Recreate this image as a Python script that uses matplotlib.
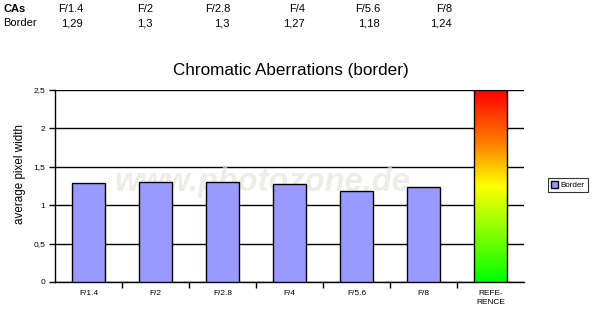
import matplotlib
matplotlib.use("Agg")
import matplotlib.pyplot as plt
import numpy as np
from matplotlib.colors import LinearSegmentedColormap
from matplotlib.patches import Rectangle

plt.rcParams['font.family'] = ['Liberation Sans', 'DejaVu Sans']

apertures = ['F/1.4', 'F/2', 'F/2.8', 'F/4', 'F/5.6', 'F/8']
border = [1.29, 1.3, 1.3, 1.27, 1.18, 1.24]
border_text = ['1,29', '1,3', '1,3', '1,27', '1,18', '1,24']
reference_label = 'REFE-\nRENCE'
reference_max = 2.5
yticks = [0, 0.5, 1, 1.5, 2, 2.5]
ytick_labels = ['0', '0,5', '1', '1,5', '2', '2,5']

W, H = 597, 324
fig = plt.figure(figsize=(W / 100, H / 100), dpi=100)
ax = fig.add_axes([55 / W, 1 - 282 / H, 469 / W, 192 / H])

# data table above the chart
col_right = [83, 153, 230, 305, 380, 452]
fig.text(3 / W, 1 - 9 / H, 'CAs', fontsize=8, fontweight='bold', va='center')
fig.text(3 / W, 1 - 23 / H, 'Border', fontsize=8, va='center')
for xr, ap, txt in zip(col_right, apertures, border_text):
    fig.text(xr / W, 1 - 9 / H, ap, fontsize=8, ha='right', va='center')
    fig.text(xr / W, 1 - 23 / H, txt, fontsize=8, ha='right', va='center')

x = np.arange(len(apertures))
ax.bar(x, border, width=0.5, color='#9999ff', edgecolor='black', linewidth=1, zorder=3,
       label='Border')

# gradient reference bar
ref_x = len(apertures)
cmap = LinearSegmentedColormap.from_list('ref', [(0.0, '#00ff00'), (0.5, '#ffff00'),
                                                 (0.72, '#ff8000'), (1.0, '#ff0000')])
grad = np.linspace(0, 1, 256).reshape(-1, 1)
ax.imshow(grad, cmap=cmap, origin='lower', aspect='auto',
          extent=[ref_x - 0.25, ref_x + 0.25, 0, reference_max], zorder=3)
ax.add_patch(Rectangle((ref_x - 0.25, 0), 0.5, reference_max, fill=False,
                       edgecolor='black', linewidth=1, zorder=4))

ax.set_xlim(-0.5, len(apertures) + 0.5)
ax.set_ylim(0, 2.5)
ax.set_yticks(yticks)
ax.set_yticklabels(ytick_labels, fontsize=6)
ax.yaxis.grid(True, color='black', linewidth=1, zorder=0)
ax.set_axisbelow(True)

ax.set_xticks(np.arange(len(apertures) + 1))
ax.set_xticklabels(apertures + [reference_label], fontsize=6, linespacing=1.3)
ax.set_xticks(np.arange(len(apertures)) + 0.5, minor=True)
ax.tick_params(axis='x', which='major', length=0, pad=6)
ax.tick_params(axis='x', which='minor', length=4, width=1, direction='out')
ax.tick_params(axis='y', length=4, width=1, direction='out', pad=3)

for s in ['top', 'right']:
    ax.spines[s].set_visible(False)
for s in ['left', 'bottom']:
    ax.spines[s].set_linewidth(1)

fig.text(20 / W, 1 - 174 / H, 'average pixel width', fontsize=8.4, rotation=90,
         ha='center', va='center')
fig.text(291 / W, 1 - 70 / H, 'Chromatic Aberrations (border)', fontsize=12.3,
         ha='center', va='center')

# faint watermark behind the bars
ax.text(262 / W, 1 - 183 / H, 'www.photozone.de', transform=fig.transFigure,
        fontsize=23.5, fontweight='bold', style='italic', color='#e8e4dc', alpha=0.7,
        ha='center', va='center', zorder=2.5)

leg = fig.legend(handles=[Rectangle((0, 0), 1, 1, facecolor='#9999ff', edgecolor='black')],
                 labels=['Border'], loc='center', bbox_to_anchor=(568 / W, 1 - 185 / H),
                 fontsize=5.8, frameon=True, fancybox=False, handlelength=0.9, handleheight=0.9,
                 handletextpad=0.3, borderpad=0.35)
leg.get_frame().set_edgecolor('black')
leg.get_frame().set_linewidth(0.8)

fig.savefig('out.png', dpi=100)
